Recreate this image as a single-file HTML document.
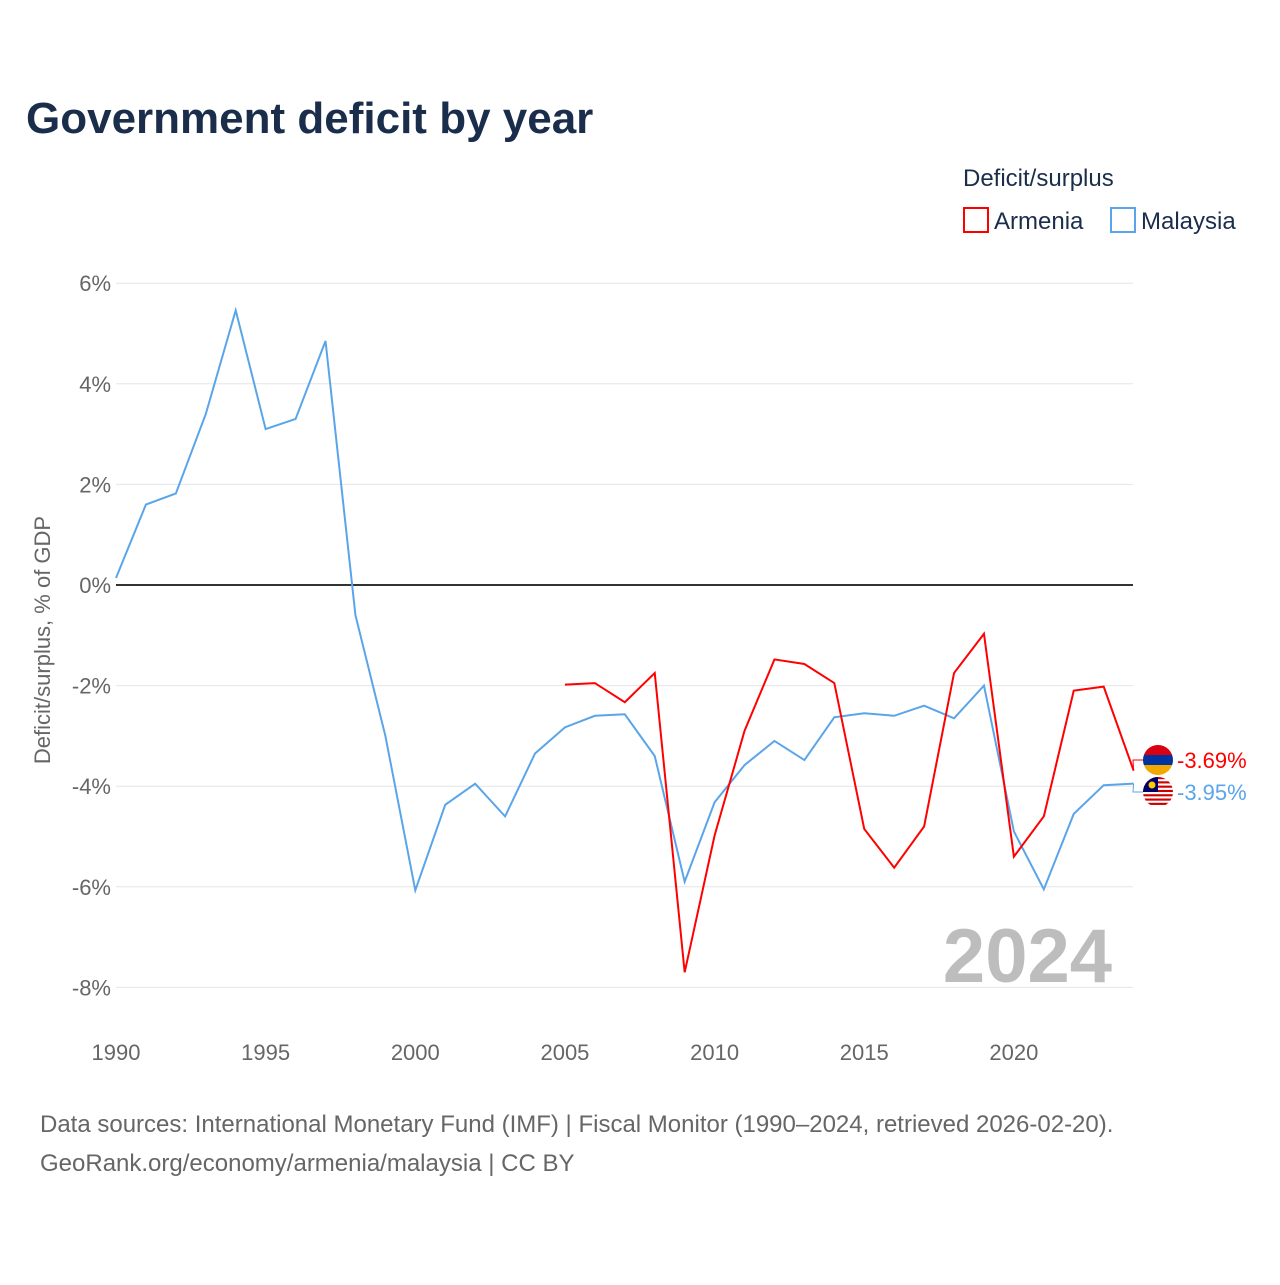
<!DOCTYPE html>
<html><head><meta charset="utf-8"><style>
body{margin:0;width:1280px;height:1280px;background:#fff;font-family:"Liberation Sans",sans-serif;overflow:hidden}
</style></head><body>
<svg width="1280" height="1280">
<defs><clipPath id="ca"><circle cx="1158" cy="760" r="15"/></clipPath><clipPath id="cm"><circle cx="1158" cy="792" r="15"/></clipPath></defs>
<text x="26" y="133" font-size="44" font-weight="bold" fill="#1a2e4c">Government deficit by year</text>
<text x="963" y="186" font-size="24" fill="#1a2e4c">Deficit/surplus</text>
<g><rect x="964" y="208" width="24" height="24" fill="none" stroke="#f00" stroke-width="2"/><text x="994" y="229" font-size="24" fill="#1a2e4c">Armenia</text></g>
<g><rect x="1111" y="208" width="24" height="24" fill="none" stroke="#5aa5ea" stroke-width="2"/><text x="1141" y="229" font-size="24" fill="#1a2e4c">Malaysia</text></g>
<text transform="translate(50,640) rotate(-90)" text-anchor="middle" font-size="22" fill="#666">Deficit/surplus, % of GDP</text>
<g id="grid"></g><g id="series"></g>
<text x="1112" y="982" text-anchor="end" font-size="76" font-weight="bold" fill="#bdbdbd">2024</text>
<text x="40" y="1132" font-size="24" fill="#666">Data sources: International Monetary Fund (IMF) | Fiscal Monitor (1990–2024, retrieved 2026-02-20).</text>
<text x="40" y="1171" font-size="24" fill="#666">GeoRank.org/economy/armenia/malaysia | CC BY</text>
</svg>
<script>
const years=[];for(let y=1990;y<=2024;y++)years.push(y);
const malaysia=[0.14,1.6,1.82,3.4,5.46,3.1,3.3,4.85,-0.6,-3.0,-6.07,-4.37,-3.95,-4.6,-3.35,-2.83,-2.6,-2.57,-3.4,-5.9,-4.32,-3.58,-3.1,-3.48,-2.63,-2.55,-2.6,-2.4,-2.65,-2.0,-4.9,-6.05,-4.55,-3.98,-3.95];
const armeniaYears=[2005,2006,2007,2008,2009,2010,2011,2012,2013,2014,2015,2016,2017,2018,2019,2020,2021,2022,2023,2024];
const armenia=[-1.98,-1.95,-2.33,-1.75,-7.7,-4.98,-2.9,-1.48,-1.57,-1.95,-4.85,-5.62,-4.8,-1.75,-0.97,-5.4,-4.6,-2.1,-2.02,-3.69];
const yTicks=[6,4,2,0,-2,-4,-6,-8];
const xTicks=[1990,1995,2000,2005,2010,2015,2020];
const NS='http://www.w3.org/2000/svg';
const X=y=>116+(y-1990)*29.93, Y=v=>585-v*50.3;
const grid=document.getElementById('grid'), ser=document.getElementById('series');
function mk(tag,at,par){const e=document.createElementNS(NS,tag);for(const k in at)e.setAttribute(k,at[k]);par.appendChild(e);return e;}
yTicks.forEach(t=>{
 const l=mk('line',{x1:116,x2:1133,y1:Y(t),y2:Y(t),stroke:t===0?'#333':'#e6e6e6','stroke-width':t===0?2:1},grid);
 
 
 const tx=mk('text',{x:111,y:Y(t)+8,'text-anchor':'end','font-size':22,fill:'#666'},grid);tx.textContent=t+'%';
 
 
});
xTicks.forEach(t=>{
 const tx=mk('text',{x:X(t),y:1060,'text-anchor':'middle','font-size':22,fill:'#666'},grid);tx.textContent=t;
 
 
});
const pm=mk('polyline',{points:years.map((y,i)=>X(y)+','+Y(malaysia[i])).join(' '),fill:'none',stroke:'#5aa5ea','stroke-width':2},ser);


const pa=mk('polyline',{points:armeniaYears.map((y,i)=>X(y)+','+Y(armenia[i])).join(' '),fill:'none',stroke:'#f00','stroke-width':2},ser);


const la=armenia[armenia.length-1], lm=malaysia[malaysia.length-1];
const ay=760, my=792;
mk('polyline',{points:`${X(2024)},${Y(la)} 1133,${ay} 1143,${ay}`,fill:'none',stroke:'#f00','stroke-width':1},ser);
mk('polyline',{points:`${X(2024)},${Y(lm)} 1133,${my} 1143,${my}`,fill:'none',stroke:'#5aa5ea','stroke-width':1},ser);
const fa=mk('g',{'clip-path':'url(#ca)'},ser);


mk('rect',{x:1143,y:ay-15,width:30,height:10,fill:'#d90012'},fa);mk('rect',{x:1143,y:ay-5,width:30,height:10,fill:'#0033a0'},fa);mk('rect',{x:1143,y:ay+5,width:30,height:10,fill:'#f2a800'},fa);
const fm=mk('g',{'clip-path':'url(#cm)'},ser);


mk('rect',{x:1143,y:my-15,width:30,height:30,fill:'#fff'},fm);
for(let i=0;i<7;i++)mk('rect',{x:1143,y:my-15+i*4.3,width:30,height:2.15,fill:'#cc0000'},fm);
mk('rect',{x:1143,y:my-15,width:15,height:15,fill:'#010066'},fm);mk('circle',{cx:1152,cy:my-7,r:3.5,fill:'#fc0'},fm);
const va=mk('text',{x:1177,y:ay+8,'font-size':22,fill:'#f00'},ser);va.textContent=la.toFixed(2)+'%';


const vm=mk('text',{x:1177,y:my+8,'font-size':22,fill:'#5aa5ea'},ser);vm.textContent=lm.toFixed(2)+'%';


</script>
</body></html>
